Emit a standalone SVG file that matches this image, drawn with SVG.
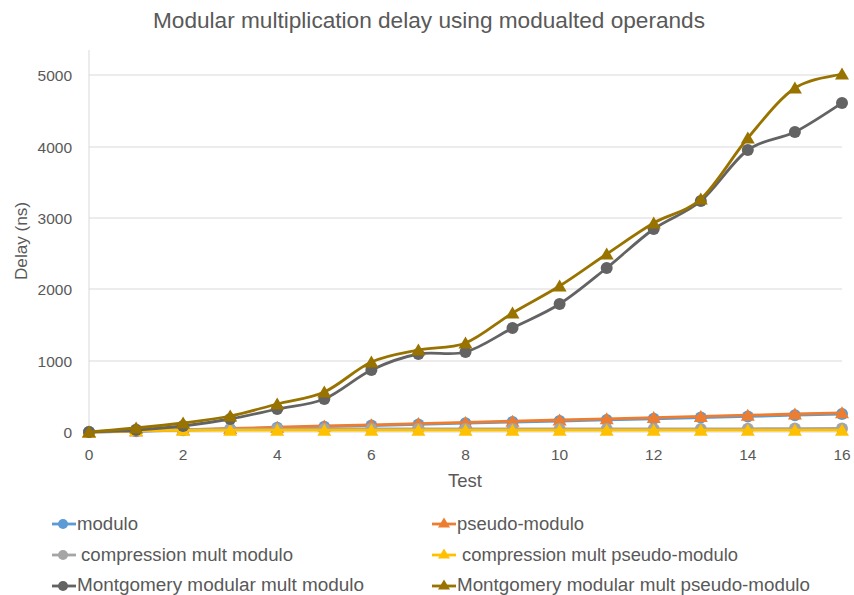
<svg xmlns="http://www.w3.org/2000/svg" width="854" height="595" viewBox="0 0 854 595">
  <defs>
    <style>
      .txt { font-family: "Liberation Sans", Arial, sans-serif; fill: #595959; }
      .title { font-size: 22px; }
      .tick { font-size: 15.5px; }
      .axt { font-size: 18.5px; }
      .leg { font-size: 18px; }
      .grid { stroke: #D9D9D9; stroke-width: 1; fill: none; }
      .ln { fill: none; stroke-width: 2.8; stroke-linejoin: round; stroke-linecap: round; }
    </style>
    <circle id="dot" r="6"/>
    <polygon id="tri" points="0,-6.5 7,5.5 -7,5.5"/>
    <circle id="ldot" r="5"/>
    <polygon id="ltri" points="0,-5.5 6,4.5 -6,4.5"/>
  </defs>
  <rect width="854" height="595" fill="#FFFFFF"/>

  <text class="txt title" x="429" y="28" text-anchor="middle" textLength="552" lengthAdjust="spacingAndGlyphs">Modular multiplication delay using modualted operands</text>

  <!-- gridlines and axes -->
  <g id="grid">
    <line class="grid" x1="89" y1="75" x2="842" y2="75"/>
    <line class="grid" x1="89" y1="147" x2="842" y2="147"/>
    <line class="grid" x1="89" y1="218" x2="842" y2="218"/>
    <line class="grid" x1="89" y1="289" x2="842" y2="289"/>
    <line class="grid" x1="89" y1="361" x2="842" y2="361"/>
    <line class="grid" x1="89" y1="432" x2="842" y2="432"/>
    <line class="grid" x1="89" y1="50" x2="89" y2="432"/>
  </g>

  <g id="y-ticks" class="txt tick" text-anchor="end">
    <text x="72" y="80.5">5000</text>
    <text x="72" y="152.5">4000</text>
    <text x="72" y="223.5">3000</text>
    <text x="72" y="294.5">2000</text>
    <text x="72" y="366.5">1000</text>
    <text x="72" y="437.5">0</text>
  </g>
  <g id="x-ticks" class="txt tick" text-anchor="middle">
    <text x="89" y="459.5">0</text>
    <text x="183.1" y="459.5">2</text>
    <text x="277.2" y="459.5">4</text>
    <text x="371.4" y="459.5">6</text>
    <text x="465.5" y="459.5">8</text>
    <text x="559.6" y="459.5">10</text>
    <text x="653.7" y="459.5">12</text>
    <text x="747.8" y="459.5">14</text>
    <text x="842" y="459.5">16</text>
  </g>
  <text class="txt axt" x="465" y="487" text-anchor="middle">Test</text>
  <text class="txt" font-size="17" transform="translate(27,241) rotate(-90)" text-anchor="middle" textLength="78" lengthAdjust="spacingAndGlyphs">Delay (ns)</text>

  <!-- data series -->
  <g id="series">
    <g id="s-modulo" fill="#5B9BD5">
      <polyline class="ln" stroke="#5B9BD5" points="89,432 136.1,431.3 183.1,430.2 230.2,429 277.2,427.8 324.3,426.7 371.4,425.6 418.4,424.4 465.5,423.2 512.5,422 559.6,421 606.7,419.9 653.7,418.8 700.8,417.6 747.8,416.4 794.9,415.2 842,414"/>
      <use href="#dot" x="89" y="432"/><use href="#dot" x="136.1" y="431.3"/><use href="#dot" x="183.1" y="430.2"/><use href="#dot" x="230.2" y="429"/><use href="#dot" x="277.2" y="427.8"/><use href="#dot" x="324.3" y="426.7"/><use href="#dot" x="371.4" y="425.6"/><use href="#dot" x="418.4" y="424.4"/><use href="#dot" x="465.5" y="423.2"/><use href="#dot" x="512.5" y="422"/><use href="#dot" x="559.6" y="421"/><use href="#dot" x="606.7" y="419.9"/><use href="#dot" x="653.7" y="418.8"/><use href="#dot" x="700.8" y="417.6"/><use href="#dot" x="747.8" y="416.4"/><use href="#dot" x="794.9" y="415.2"/><use href="#dot" x="842" y="414"/>
    </g>
    <g id="s-pseudo" fill="#ED7D31">
      <polyline class="ln" stroke="#ED7D31" points="89,432 136.1,431 183.1,429.8 230.2,428.5 277.2,427.2 324.3,426 371.4,424.8 418.4,423.6 465.5,422.4 512.5,421.2 559.6,420 606.7,418.8 653.7,417.6 700.8,416.4 747.8,415.2 794.9,414 842,412.8"/>
      <use href="#tri" x="89" y="432"/><use href="#tri" x="136.1" y="431"/><use href="#tri" x="183.1" y="429.8"/><use href="#tri" x="230.2" y="428.5"/><use href="#tri" x="277.2" y="427.2"/><use href="#tri" x="324.3" y="426"/><use href="#tri" x="371.4" y="424.8"/><use href="#tri" x="418.4" y="423.6"/><use href="#tri" x="465.5" y="422.4"/><use href="#tri" x="512.5" y="421.2"/><use href="#tri" x="559.6" y="420"/><use href="#tri" x="606.7" y="418.8"/><use href="#tri" x="653.7" y="417.6"/><use href="#tri" x="700.8" y="416.4"/><use href="#tri" x="747.8" y="415.2"/><use href="#tri" x="794.9" y="414"/><use href="#tri" x="842" y="412.8"/>
    </g>
    <g id="s-comp-modulo" fill="#A5A5A5">
      <polyline class="ln" stroke="#A5A5A5" points="89,432 136.1,429.5 183.1,429.3 230.2,429.2 277.2,429.1 324.3,429 371.4,429 418.4,429 465.5,429 512.5,429 559.6,429 606.7,429 653.7,429 700.8,429 747.8,428.8 794.9,428.6 842,428.4"/>
      <use href="#dot" x="89" y="432"/><use href="#dot" x="136.1" y="429.5"/><use href="#dot" x="183.1" y="429.3"/><use href="#dot" x="230.2" y="429.2"/><use href="#dot" x="277.2" y="429.1"/><use href="#dot" x="324.3" y="429"/><use href="#dot" x="371.4" y="429"/><use href="#dot" x="418.4" y="429"/><use href="#dot" x="465.5" y="429"/><use href="#dot" x="512.5" y="429"/><use href="#dot" x="559.6" y="429"/><use href="#dot" x="606.7" y="429"/><use href="#dot" x="653.7" y="429"/><use href="#dot" x="700.8" y="429"/><use href="#dot" x="747.8" y="428.8"/><use href="#dot" x="794.9" y="428.6"/><use href="#dot" x="842" y="428.4"/>
    </g>
    <g id="s-comp-pseudo" fill="#FFC000">
      <polyline class="ln" stroke="#FFC000" points="89,432 136.1,430.5 183.1,430.3 230.2,430.2 277.2,430.2 324.3,430.2 371.4,430.2 418.4,430.2 465.5,430.2 512.5,430.2 559.6,430.2 606.7,430.2 653.7,430.2 700.8,430.2 747.8,430.2 794.9,430.2 842,430.2"/>
      <use href="#tri" x="89" y="432"/><use href="#tri" x="136.1" y="430.5"/><use href="#tri" x="183.1" y="430.3"/><use href="#tri" x="230.2" y="430.2"/><use href="#tri" x="277.2" y="430.2"/><use href="#tri" x="324.3" y="430.2"/><use href="#tri" x="371.4" y="430.2"/><use href="#tri" x="418.4" y="430.2"/><use href="#tri" x="465.5" y="430.2"/><use href="#tri" x="512.5" y="430.2"/><use href="#tri" x="559.6" y="430.2"/><use href="#tri" x="606.7" y="430.2"/><use href="#tri" x="653.7" y="430.2"/><use href="#tri" x="700.8" y="430.2"/><use href="#tri" x="747.8" y="430.2"/><use href="#tri" x="794.9" y="430.2"/><use href="#tri" x="842" y="430.2"/>
    </g>
    <g id="s-mont-modulo" fill="#636363">
      <path class="ln" stroke="#636363" d="M89,432 C96.8,431.67 120.4,431 136.1,430 C151.8,429 167.4,427.83 183.1,426 C198.8,424.17 214.5,421.83 230.2,419 C245.9,416.17 261.5,412.33 277.2,409 C292.9,405.67 308.6,405.5 324.3,399 C340,392.5 355.7,377.5 371.4,370 C387.1,362.5 402.7,357 418.4,354 C434.1,351 449.8,356.33 465.5,352 C481.2,347.67 496.8,336 512.5,328 C528.2,320 543.9,314 559.6,304 C575.3,294 591,280.5 606.7,268 C622.4,255.5 638,240.17 653.7,229 C669.4,217.83 685.1,214.17 700.8,201 C716.5,187.83 732.1,161.5 747.8,150 C763.5,138.5 779.2,139.83 794.9,132 C810.6,124.17 834.2,107.83 842,103"/>
      <use href="#dot" x="89" y="432"/><use href="#dot" x="136.1" y="430"/><use href="#dot" x="183.1" y="426"/><use href="#dot" x="230.2" y="419"/><use href="#dot" x="277.2" y="409"/><use href="#dot" x="324.3" y="399"/><use href="#dot" x="371.4" y="370"/><use href="#dot" x="418.4" y="354"/><use href="#dot" x="465.5" y="352"/><use href="#dot" x="512.5" y="328"/><use href="#dot" x="559.6" y="304"/><use href="#dot" x="606.7" y="268"/><use href="#dot" x="653.7" y="229"/><use href="#dot" x="700.8" y="201"/><use href="#dot" x="747.8" y="150"/><use href="#dot" x="794.9" y="132"/><use href="#dot" x="842" y="103"/>
    </g>
    <g id="s-mont-pseudo" fill="#997300">
      <path class="ln" stroke="#997300" d="M89,432 C96.8,431.33 120.4,429.5 136.1,428 C151.8,426.5 167.4,425 183.1,423 C198.8,421 214.5,419.17 230.2,416 C245.9,412.83 261.5,408 277.2,404 C292.9,400 308.6,399 324.3,392 C340,385 355.7,369 371.4,362 C387.1,355 402.7,353.17 418.4,350 C434.1,346.83 449.8,349.17 465.5,343 C481.2,336.83 496.8,322.5 512.5,313 C528.2,303.5 543.9,295.83 559.6,286 C575.3,276.17 591,264.5 606.7,254 C622.4,243.5 638,232.17 653.7,223 C669.4,213.83 685.1,213.17 700.8,199 C716.5,184.83 732.1,156.5 747.8,138 C763.5,119.5 779.2,98.67 794.9,88 C810.6,77.33 834.2,76.33 842,74"/>
      <use href="#tri" x="89" y="432"/><use href="#tri" x="136.1" y="428"/><use href="#tri" x="183.1" y="423"/><use href="#tri" x="230.2" y="416"/><use href="#tri" x="277.2" y="404"/><use href="#tri" x="324.3" y="392"/><use href="#tri" x="371.4" y="362"/><use href="#tri" x="418.4" y="350"/><use href="#tri" x="465.5" y="343"/><use href="#tri" x="512.5" y="313"/><use href="#tri" x="559.6" y="286"/><use href="#tri" x="606.7" y="254"/><use href="#tri" x="653.7" y="223"/><use href="#tri" x="700.8" y="199"/><use href="#tri" x="747.8" y="138"/><use href="#tri" x="794.9" y="88"/><use href="#tri" x="842" y="74"/>
    </g>
  </g>

  <!-- legend -->
  <g id="legend">
    <g id="leg-modulo" fill="#5B9BD5">
      <line x1="52" y1="524" x2="76" y2="524" stroke="#5B9BD5" stroke-width="2.8"/>
      <use href="#ldot" x="63" y="524"/>
      <text class="txt leg" x="77" y="530" textLength="61" lengthAdjust="spacingAndGlyphs">modulo</text>
    </g>
    <g id="leg-pseudo" fill="#ED7D31">
      <line x1="432" y1="524" x2="456" y2="524" stroke="#ED7D31" stroke-width="2.8"/>
      <use href="#ltri" x="444" y="523"/>
      <text class="txt leg" x="457" y="530" textLength="127" lengthAdjust="spacingAndGlyphs">pseudo-modulo</text>
    </g>
    <g id="leg-comp-modulo" fill="#A5A5A5">
      <line x1="52" y1="555" x2="76" y2="555" stroke="#A5A5A5" stroke-width="2.8"/>
      <use href="#ldot" x="63" y="555"/>
      <text class="txt leg" x="81" y="561" textLength="212" lengthAdjust="spacingAndGlyphs">compression mult modulo</text>
    </g>
    <g id="leg-comp-pseudo" fill="#FFC000">
      <line x1="432" y1="555" x2="456" y2="555" stroke="#FFC000" stroke-width="2.8"/>
      <use href="#ltri" x="444" y="554"/>
      <text class="txt leg" x="462" y="561" textLength="276" lengthAdjust="spacingAndGlyphs">compression mult pseudo-modulo</text>
    </g>
    <g id="leg-mont-modulo" fill="#636363">
      <line x1="52" y1="586" x2="76" y2="586" stroke="#636363" stroke-width="2.8"/>
      <use href="#ldot" x="63" y="586"/>
      <text class="txt leg" x="77" y="591" textLength="287" lengthAdjust="spacingAndGlyphs">Montgomery modular mult modulo</text>
    </g>
    <g id="leg-mont-pseudo" fill="#997300">
      <line x1="432" y1="586" x2="456" y2="586" stroke="#997300" stroke-width="2.8"/>
      <use href="#ltri" x="444" y="585"/>
      <text class="txt leg" x="457" y="591" textLength="353" lengthAdjust="spacingAndGlyphs">Montgomery modular mult pseudo-modulo</text>
    </g>
  </g>
</svg>
